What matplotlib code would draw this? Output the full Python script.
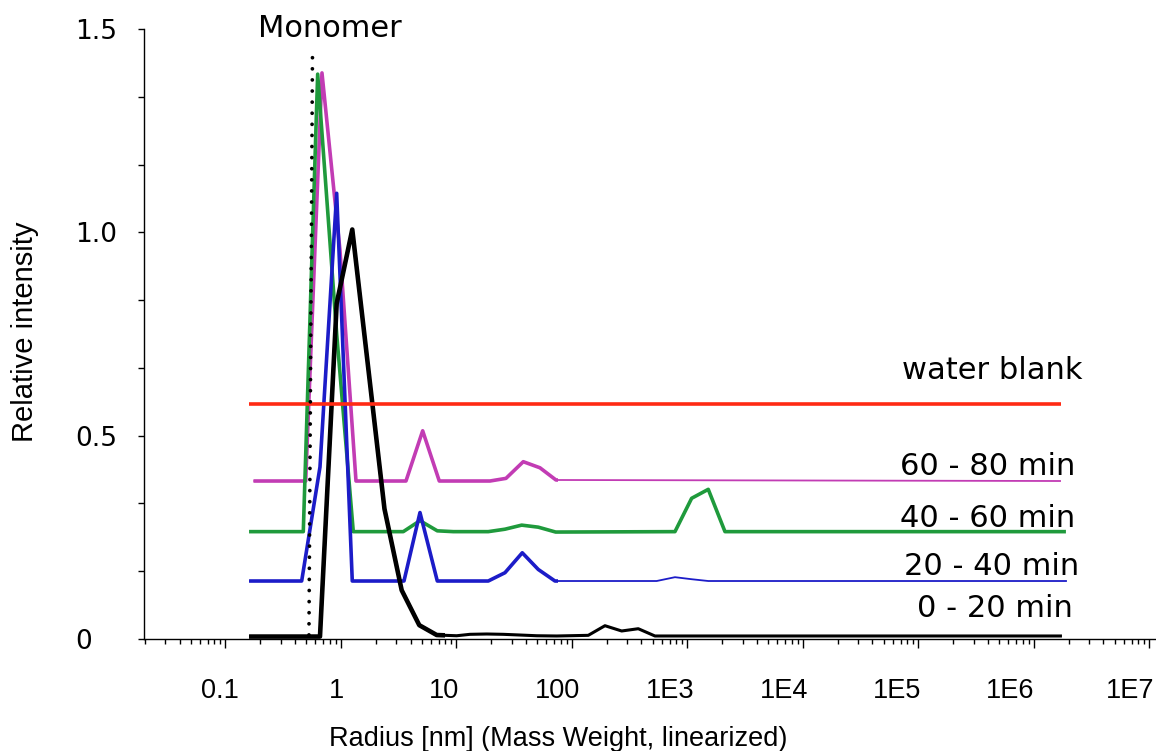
import matplotlib
matplotlib.use("Agg")
import matplotlib.pyplot as plt
from matplotlib import font_manager
from matplotlib.ticker import FixedLocator, LogLocator, MultipleLocator, NullFormatter
from matplotlib.transforms import blended_transform_factory, ScaledTranslation
from matplotlib.patches import Rectangle

# ---------------- data ----------------
x_black = [0.16, 0.658, 0.918, 1.2526, 2.38, 3.354, 4.764, 6.741, 10.04, 13.09, 18.26,
           25.42, 35.46, 49.48, 73.7, 138.4, 193.1, 269.4, 375.0, 523.1, 1.748e6]
y_black = [0.006, 0.006, 0.825, 1.007, 0.32, 0.120, 0.034, 0.0098, 0.008, 0.0115, 0.0123,
           0.0115, 0.0098, 0.008, 0.0074, 0.009, 0.0327, 0.0197, 0.0253, 0.0074, 0.0074]

x_blue = [0.16, 0.4568, 0.658, 0.918, 1.2526, 3.512, 4.831, 6.822, 18.85, 26.3, 37.13,
          51.08, 71.26, 541.2, 779.5, 1087, 1514, 1.93e6]
y_blue = [0.1426, 0.1426, 0.423, 1.096, 0.1426, 0.1426, 0.311, 0.1426, 0.1426, 0.163, 0.212,
          0.171, 0.1426, 0.1426, 0.152, 0.147, 0.1426, 0.1426]

x_green = [0.16, 0.4717, 0.6284, 0.918, 1.278, 3.463, 4.831, 6.822, 9.383, 18.85, 26.3,
           36.69, 51.08, 72.26, 779.5, 1087, 1514, 2113, 1.892e6]
y_green = [0.264, 0.264, 1.389, 0.75, 0.264, 0.264, 0.291, 0.266, 0.264, 0.264, 0.270,
           0.280, 0.275, 0.263, 0.264, 0.346, 0.368, 0.264, 0.264]

x_magenta = [0.1747, 0.4948, 0.6846, 0.980, 1.349, 3.654, 5.097, 7.098, 19.5, 26.83,
             37.88, 52.84, 72.7, 1.714e6]
y_magenta = [0.3885, 0.3885, 1.392, 0.956, 0.3885, 0.3885, 0.512, 0.3885, 0.3885, 0.395,
             0.436, 0.421, 0.391, 0.3885]

x_red = [0.16, 1.714e6]
y_red = [0.578, 0.578]

x_monomer = [0.528, 0.567]
y_monomer = [0.01, 1.453]

series_labels = ["water blank", "60 - 80 min", "40 - 60 min", "20 - 40 min", "0 - 20 min"]
x_tick_values = [0.1, 1, 10, 100, 1e3, 1e4, 1e5, 1e6, 1e7]
x_tick_labels = ["0.1", "1", "10", "100", "1E3", "1E4", "1E5", "1E6", "1E7"]
y_tick_values = [0, 0.5, 1.0, 1.5]
y_tick_labels = ["0", "0.5", "1.0", "1.5"]

# ---------------- figure ----------------
W, H = 1156, 751
fig = plt.figure(figsize=(W / 100, H / 100), dpi=100)
ax = fig.add_axes([144 / W, 1 - 639 / H, (W - 144) / W, (639 - 29) / H])
ax.set_xscale("log")
ax.set_xlim(0.0197, 1.14e7)
ax.set_ylim(0, 1.5)

for s in ("top", "right"):
    ax.spines[s].set_visible(False)
for s in ("left", "bottom"):
    ax.spines[s].set_linewidth(1.0)
    ax.spines[s].set_color("black")

names = {f.name for f in font_manager.fontManager.ttflist}
if "Liberation Sans Narrow" in names:
    narrow_family, narrow_size = "Liberation Sans Narrow", 23
else:
    narrow_family, narrow_size = "Liberation Sans", 19.5

# x ticks
ax.xaxis.set_major_locator(FixedLocator(x_tick_values))
ax.xaxis.set_minor_locator(LogLocator(base=10, subs=[2, 3, 4, 5, 6, 7, 8, 9], numticks=60))
ax.xaxis.set_minor_formatter(NullFormatter())
ax.tick_params(axis="x", which="major", direction="out", length=6.5, width=1.0,
               labelbottom=False, color="black")
ax.tick_params(axis="x", which="minor", direction="out", length=3.6, width=1.0, color="black")

label_dx = [-6, -4, -12, -14, -17, -19, -21, -24, -19]
btrans = blended_transform_factory(ax.transData, ax.transAxes)
for v, lab, dx in zip(x_tick_values, x_tick_labels, label_dx):
    ax.text(v, (639 - 691) / 610, lab,
            transform=btrans + ScaledTranslation(dx / 100, 0, fig.dpi_scale_trans),
            ha="center", va="center", fontsize=narrow_size, family=narrow_family, clip_on=False)

# y ticks
ax.set_yticks(y_tick_values)
ax.set_yticklabels(y_tick_labels, ha="left", fontsize=19, family="DejaVu Sans")
ax.yaxis.set_minor_locator(MultipleLocator(1 / 6))
ax.tick_params(axis="y", which="both", direction="out", length=4.3, width=1.0, color="black")
ax.tick_params(axis="y", which="major", pad=45.4)

# ---------------- lines ----------------
XMIN = 0.0197


def draw(x, y, color, lw_thick, lw_thin, x_break, z):
    ax.plot(x, y, color=color, lw=lw_thin, zorder=z, solid_capstyle="butt")
    if lw_thick != lw_thin:
        line, = ax.plot(x, y, color=color, lw=lw_thick, zorder=z, solid_capstyle="butt")
        rect = Rectangle((XMIN, -1), x_break - XMIN, 5, transform=ax.transData)
        line.set_clip_path(rect)


draw(x_magenta, y_magenta, "#c23cb4", 2.6, 1.3, 75, 2)
draw(x_green, y_green, "#1f9a3c", 2.6, 2.6, 75, 3)
draw(x_blue, y_blue, "#1c1cc8", 2.6, 1.3, 75, 4)
draw(x_black, y_black, "#000000", 3.3, 2.2, 8, 5)
draw(x_red, y_red, "#ff2a14", 2.6, 2.6, 75, 6)
ax.plot(x_monomer, y_monomer, color="black", lw=2.7, linestyle=(0, (0.01, 2.95)),
        dash_capstyle="round", zorder=7)

# ---------------- text ----------------
def ftext(px, py, s, **kw):
    fig.text(px / W, 1 - py / H, s, **kw)


ftext(329.5, 36.7, "Monomer", ha="center", va="baseline", fontsize=22, family="DejaVu Sans")
label_pos = [(1082, 379), (1075, 475), (1075, 527), (1079, 575), (1073, 617)]
for s, (px, py) in zip(series_labels, label_pos):
    ftext(px, py, s, ha="right", va="baseline", fontsize=22, family="DejaVu Sans")

ftext(558, 746, "Radius [nm] (Mass Weight, linearized)", ha="center", va="baseline",
      fontsize=narrow_size, family=narrow_family)
ftext(25, 332, "Relative intensity", ha="center", va="center", rotation=90,
      fontsize=21, family="Liberation Sans")

fig.savefig("out.png", dpi=100)
